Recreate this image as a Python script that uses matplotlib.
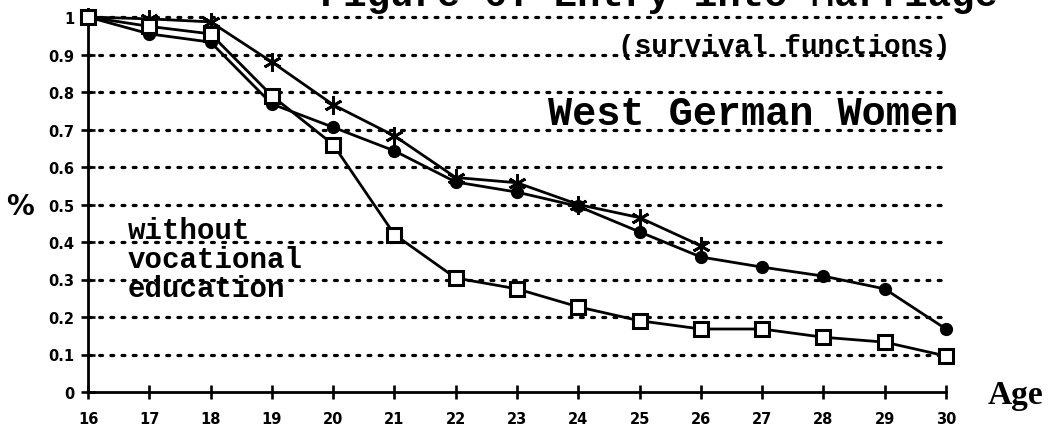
import matplotlib
matplotlib.use("Agg")
import matplotlib.pyplot as plt
import numpy as np

# ages on the x axis
ages = [16, 17, 18, 19, 20, 21, 22, 23, 24, 25, 26, 27, 28, 29, 30]

# survival functions
stars = [1.0, 0.995, 0.987, 0.88, 0.766, 0.683, 0.572, 0.558, 0.50, 0.465, 0.39]
circles = [1.0, 0.955, 0.933, 0.768, 0.706, 0.643, 0.56, 0.533, 0.495, 0.427,
           0.36, 0.333, 0.309, 0.275, 0.168]
squares = [1.0, 0.975, 0.955, 0.79, 0.66, 0.42, 0.304, 0.275, 0.227, 0.19,
           0.168, 0.168, 0.146, 0.133, 0.096]

yticks = [0, 0.1, 0.2, 0.3, 0.4, 0.5, 0.6, 0.7, 0.8, 0.9, 1]
ytick_labels = ['0', '0.1', '0.2', '0.3', '0.4', '0.5', '0.6', '0.7', '0.8', '0.9', '1']

mono = 'Liberation Mono'

fig = plt.figure(figsize=(10.5, 4.35), dpi=100)
ax = fig.add_axes([88/1050, 42/435, 858/1050, 375/435])

# dotted horizontal grid
for v in yticks[1:]:
    ax.axhline(v, color='black', lw=2.3, ls=(0, (0.9, 2.6)),
               dash_capstyle='round', zorder=1, clip_on=False)

lw = 2.0
ax.plot(ages[:len(stars)], stars, color='black', lw=lw, marker=(6, 2, 0),
        markersize=13, markeredgewidth=2, zorder=3, clip_on=False)
ax.plot(ages, circles, color='black', lw=lw, marker='o', markersize=8.5,
        zorder=3, clip_on=False)
ax.plot(ages, squares, color='black', lw=lw, marker='s', markersize=9.5,
        markerfacecolor='white', markeredgewidth=2.2, zorder=4, clip_on=False)

ax.set_xlim(16, 30)
ax.set_ylim(0, 1)
ax.set_xticks(ages)
ax.set_xticklabels([str(a) for a in ages], fontsize=10.5, fontweight='heavy')
ax.set_yticks(yticks)
ax.set_yticklabels(ytick_labels, fontsize=10.5, fontweight='heavy')
ax.tick_params(direction='inout', length=10, width=1.9)
ax.tick_params(axis='x', pad=9)
ax.tick_params(axis='y', pad=5)

for s in ['top', 'right']:
    ax.spines[s].set_visible(False)
for s in ['left', 'bottom']:
    ax.spines[s].set_linewidth(2.0)

ax.patch.set_alpha(0)

# texts
fig.text(950/1050, 1 - 47/435, '(survival functions)', ha='right', va='center',
         fontsize=20, family=mono, fontweight='bold')
fig.text(958/1050, 1 - 114/435, 'West German Women', ha='right', va='center',
         fontsize=29, family=mono, fontweight='bold')
fig.text(128/1050, 1 - 260/435, 'without\nvocational\neducation', ha='left',
         va='center', fontsize=21, family=mono, fontweight='bold',
         linespacing=1.05)
fig.text(20/1050, 1 - 207/435, '%', ha='center', va='center', fontsize=20,
         fontweight='heavy')
fig.text(1015/1050, 1 - 396/435, 'Age', ha='center', va='center', fontsize=24,
         family='Liberation Serif', fontweight='bold')
# title, mostly cut off at the top edge in the scan
fig.text(998/1050, 1 - 6/435, 'Figure 6: Entry into Marriage', ha='right',
         va='baseline', fontsize=28, family=mono, fontweight='bold')

fig.savefig('out.png', dpi=100)
